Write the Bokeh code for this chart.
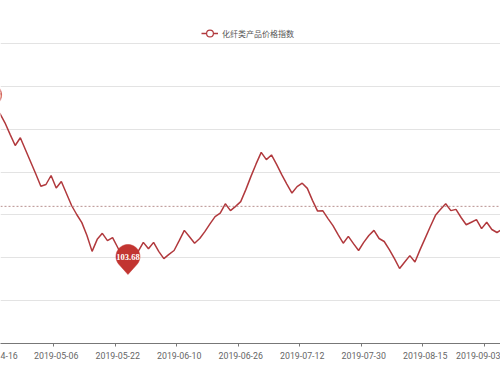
import math
from bokeh.plotting import figure
from bokeh.models import (Range1d, FixedTicker, Span, Legend, LegendItem,
                          ColumnDataSource)
from bokeh.embed import file_html
from bokeh.resources import INLINE

# ---------------- data ----------------
series_name = "化纤类产品价格指数"
values = [107.45, 107.41, 107.37, 107.15, 106.88, 106.62, 106.80, 106.52, 106.24, 105.96,
          105.67, 105.71, 105.92, 105.63, 105.78, 105.50, 105.22, 105.01, 104.82, 104.52,
          104.15, 104.43, 104.57, 104.40, 104.47, 104.24, 104.00, 103.68, 104.05, 104.15,
          104.36, 104.21, 104.36, 104.15, 103.98, 104.08, 104.17, 104.40, 104.64, 104.49,
          104.34, 104.45, 104.61, 104.79, 104.96, 105.04, 105.26, 105.10, 105.20, 105.31,
          105.59, 105.90, 106.19, 106.46, 106.29, 106.40, 106.18, 105.94, 105.72, 105.51,
          105.66, 105.74, 105.62, 105.34, 105.09, 105.10, 104.92, 104.75, 104.54, 104.34,
          104.50, 104.33, 104.17, 104.36, 104.52, 104.64, 104.45, 104.38, 104.19, 103.98,
          103.75, 103.90, 104.05, 103.90, 104.19, 104.46, 104.73, 104.99, 105.13, 105.26,
          105.10, 105.13, 104.94, 104.77, 104.83, 104.89, 104.68, 104.83, 104.66, 104.59,
          104.66, 104.73]
tick_idx = [1, 13, 25, 37, 49, 61, 73, 85, 97]
tick_labels = ["2019-04-16", "2019-05-06", "2019-05-22", "2019-06-10", "2019-06-26",
               "2019-07-12", "2019-07-30", "2019-08-15", "2019-09-03"]
avg_value = 105.2
y_grid_values = [103, 104, 105, 106, 107, 108, 109]

# ---------------- layout ----------------
W, H = 500, 375
TOP, BOTTOM = 23, 32
FRAME_H = H - TOP - BOTTOM           # 320 px
PX_PER_UNIT = 300 / 7.0              # 102..109 spans 300 px
X0, X1 = 2.13, 99.69
Y0 = 102
Y1 = Y0 + FRAME_H / PX_PER_UNIT      # room above the top grid line for the legend
LINE_COLOR = "#b1393d"
PIN_COLOR = "#c23531"
PXX = W / (X1 - X0)

xs = list(range(len(values)))
src = ColumnDataSource(data=dict(x=xs, y=values))

p = figure(width=W, height=H, output_backend="svg", toolbar_location=None,
           x_range=Range1d(X0, X1), y_range=Range1d(Y0, Y1),
           y_axis_location=None, min_border_left=0, min_border_right=0,
           min_border_top=TOP, min_border_bottom=BOTTOM)
p.outline_line_color = None
p.background_fill_color = "white"
p.border_fill_color = "white"
p.xgrid.visible = False
p.ygrid.ticker = FixedTicker(ticks=y_grid_values)
p.ygrid.grid_line_color = "#e3e3e3"
p.ygrid.grid_line_width = 1

# the first label (2019-04-16) is centred left of the visible window; only its
# right part "4-16" shows, so it is placed where that visible part sits
first_vis = tick_labels[0][-4:]
first_pos = tick_idx[0] + (22.2 - 8.6) / PXX
major = [first_pos] + tick_idx[1:]
labels = {first_pos: first_vis}
labels.update({t: l for t, l in zip(tick_idx[1:], tick_labels[1:])})

ax = p.xaxis[0]
ax.ticker = FixedTicker(ticks=major, minor_ticks=[t - 0.5 for t in tick_idx])
ax.major_label_overrides = labels
ax.major_tick_out = 0
ax.major_tick_in = 0
ax.minor_tick_out = 3
ax.minor_tick_in = 0
ax.minor_tick_line_color = "#777777"
ax.axis_line_color = "#777777"
ax.major_label_text_font = "Roboto"
ax.major_label_text_font_size = "8.8px"
ax.major_label_text_color = "#666666"
ax.major_label_standoff = 5

# average line
p.add_layout(Span(location=avg_value, dimension="width", line_color="#b8908f",
                  line_dash="2 2", line_width=1))

line_r = p.line("x", "y", source=src, line_color=LINE_COLOR, line_width=1.5)
# symbol used only for the legend icon (series symbols are hidden)
mark_r = p.scatter(x=[float("nan")], y=[float("nan")], marker="circle", size=8,
                   line_color=LINE_COLOR, fill_color="white", line_width=1.2)

# pins for max / min
def add_pin(i):
    v = values[i]
    r, up, d = 12, 15, 18
    cy = v + up / PX_PER_UNIT
    t = math.acos(r / d)
    a0 = -math.pi / 2 + t
    a1 = 3 * math.pi / 2 - t
    n = 40
    px, py = [], []
    for k in range(n + 1):
        a = a0 + (a1 - a0) * k / n
        px.append(i + r * math.cos(a) / PXX)
        py.append(cy + r * math.sin(a) / PX_PER_UNIT)
    px.append(i)
    py.append(cy - d / PX_PER_UNIT)
    p.patch(px, py, fill_color=PIN_COLOR, line_color=PIN_COLOR, line_width=0.5)
    p.text(x=[i], y=[cy], text=["%.2f" % v], text_align="center", text_baseline="middle",
           text_color="white", text_font_size="8.5px", text_font="Roboto",
           text_font_style="bold")

imax = max(range(len(values)), key=lambda k: values[k])
imin = min(range(len(values)), key=lambda k: values[k])
add_pin(imax)
add_pin(imin)

legend = Legend(items=[LegendItem(label=series_name, renderers=[line_r, mark_r])],
                location=(201, FRAME_H - 20), orientation="horizontal",
                glyph_width=17, glyph_height=20, label_height=20, label_standoff=4,
                padding=0, margin=0, spacing=0, border_line_color=None,
                background_fill_alpha=0,
                label_text_font="Noto Sans CJK SC", label_text_font_size="8px",
                label_text_color="#555555")
p.add_layout(legend, "center")

open("out.html", "w").write(file_html(p, INLINE))
